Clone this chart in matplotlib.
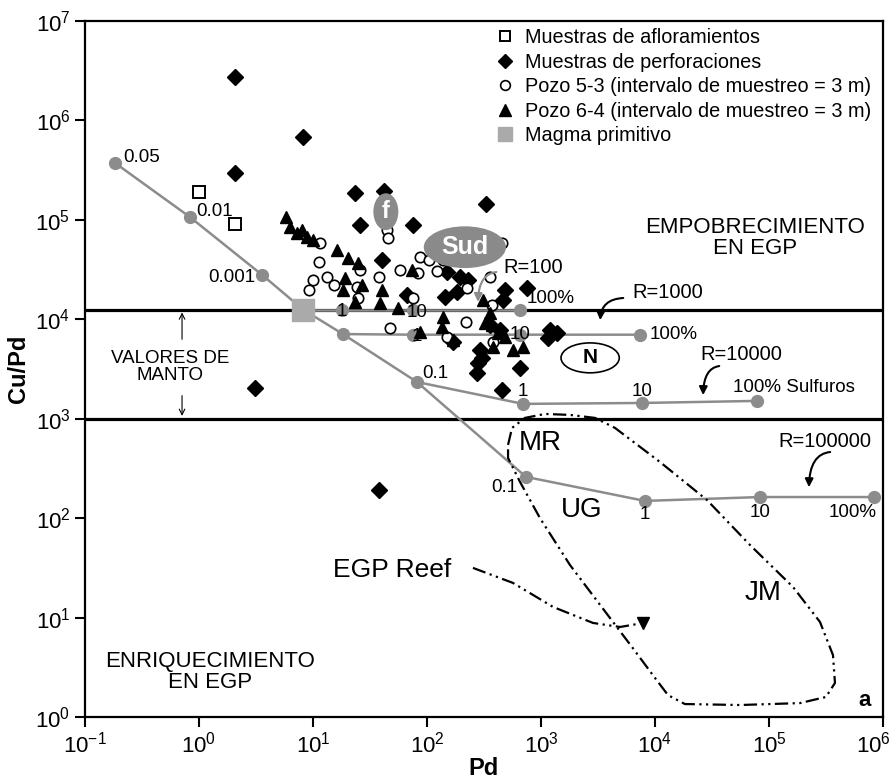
import matplotlib
matplotlib.use("Agg")
import matplotlib.pyplot as plt
from matplotlib.patches import Ellipse
from matplotlib.lines import Line2D
from matplotlib.transforms import ScaledTranslation

plt.rcParams['font.family'] = ['Liberation Sans', 'DejaVu Sans']
plt.rcParams['mathtext.fontset'] = 'custom'
plt.rcParams['mathtext.rm'] = 'Liberation Sans'
plt.rcParams['mathtext.it'] = 'Liberation Sans:italic'
plt.rcParams['mathtext.bf'] = 'Liberation Sans:bold'

# --- datos (Pd, Cu/Pd) ---
aflor_pd = [1.0, 2.07]
aflor_cupd = [1.91e5, 9.1e4]

perf_pd = [2.07, 8.2, 2.07, 23.4, 42, 25.8, 75, 330, 40, 67, 150, 144, 183, 195, 229, 483,
           464, 753, 1200, 1380, 1150, 292, 280, 275, 304, 654, 455, 169, 3.1, 357, 437, 38]
perf_cupd = [2.75e6, 6.8e5, 2.97e5, 1.87e5, 1.96e5, 8.9e4, 8.9e4, 1.45e5, 3.96e4, 1.76e4,
             3.0e4, 1.68e4, 1.89e4, 2.67e4, 2.49e4, 1.98e4, 1.57e4, 2.07e4, 7.8e3, 7.3e3,
             6.5e3, 4.9e3, 3.64e3, 2.89e3, 4.1e3, 3.25e3, 1.95e3, 5.9e3, 2.04e3, 8.8e3, 7.8e3, 192]

p53_pd = [11.5, 11.3, 10, 9.2, 13.3, 15.3, 25.8, 24.8, 38, 44.6, 45.5, 58, 83, 87, 104, 135,
          138, 122, 455, 280, 357, 224, 75, 47, 220, 150, 372, 379, 24.3]
p53_cupd = [5.9e4, 3.78e4, 2.49e4, 1.98e4, 2.67e4, 2.22e4, 3.14e4, 1.64e4, 2.67e4, 7.9e4,
            6.6e4, 3.14e4, 2.93e4, 4.25e4, 3.96e4, 5.0e4, 3.96e4, 3.07e4, 5.9e4, 5.0e4,
            2.67e4, 2.07e4, 1.64e4, 8.2e3, 9.4e3, 6.65e3, 1.4e4, 5.9e3, 2.12e4]

p64_pd = [5.8, 6.3, 7.2, 8.0, 8.9, 10, 16.2, 20.3, 24.8, 19.1, 18.3, 26.9, 23.4, 40, 38.7,
          55.7, 74, 310, 357, 138, 135, 87, 169, 323, 372, 420, 483, 568, 695, 379, 304]
p64_cupd = [1.07e5, 8.5e4, 7.4e4, 7.9e4, 6.7e4, 6.3e4, 5.0e4, 4.15e4, 3.69e4, 2.61e4,
            1.98e4, 2.22e4, 1.5e4, 1.98e4, 1.46e4, 1.3e4, 3.14e4, 1.57e4, 1.16e4, 1.06e4,
            8.4e3, 7.5e3, 6.2e3, 9.2e3, 8.8e3, 7.3e3, 6.65e3, 4.9e3, 5.3e3, 5.3e3, 4.7e3]

magma_pd, magma_cupd = 8.2, 1.25e4
manto = [1.0e3, 1.25e4]

# curva principal (fraccion de sulfuros) y ramas de factor R
diag_pd = [0.183, 0.83, 3.57, 8.2, 18.3, 81.7, 738]
diag_cupd = [3.74e5, 1.07e5, 2.8e4, 1.25e4, 7.1e3, 2.34e3, 260]
diag_lbl = ['0.05', '0.01', '0.001']

r100_pd = [8.2, 17.9, 75.3, 654]
r100_cupd = [1.25e4, 1.25e4, 1.25e4, 1.25e4]
r1000_pd = [18.3, 75.3, 654, 7380]
r1000_cupd = [7.1e3, 7.0e3, 7.0e3, 7.0e3]
r1e4_pd = [81.7, 695, 7690, 78500]
r1e4_cupd = [2.34e3, 1.41e3, 1.44e3, 1.51e3]
r1e5_pd = [738, 8170, 83400, 8.3e5]
r1e5_cupd = [260, 149, 163, 163]

# campo MR-UG-JM y curva EGP Reef
field_pd = [514, 557, 724, 1084, 1795, 2976, 4457, 11060, 28580, 68100, 162500, 280000,
            364000, 379000, 316000, 187000, 55700, 18300, 13000, 10000, 6280, 3300, 1795,
            980, 655, 514, 514]
field_cupd = [545, 808, 1019, 1117, 1092, 1019, 808, 367, 152, 53.7, 20.3, 9.03, 4.2, 2.2,
              1.59, 1.38, 1.32, 1.35, 1.66, 2.47, 5.06, 13.4, 33.8, 100, 231, 403, 545]
reef_pd = [253, 568, 1274, 2858, 4932, 6950]
reef_cupd = [31.6, 22.3, 12.8, 8.83, 8.04, 8.6]

xticks = [1e-1, 1e0, 1e1, 1e2, 1e3, 1e4, 1e5, 1e6]
yticks = [1e0, 1e1, 1e2, 1e3, 1e4, 1e5, 1e6, 1e7]

gray = '#8c8c8c'

fig = plt.figure(figsize=(8.93, 7.8), dpi=100)
ax = fig.add_axes([85/893, 1-717/780, 798/893, 696/780])
ax.set_xscale('log')
ax.set_yscale('log')
ax.set_xticks(xticks)
ax.set_yticks(yticks)
ax.set_xlim(0.1, 1e6)
ax.set_ylim(1, 1e7)

for y in manto:
    ax.axhline(y, color='black', lw=2.3, zorder=2)

# curvas de mezcla
ax.plot(diag_pd, diag_cupd, color=gray, lw=1.8, zorder=3)
for px, py in [(r100_pd, r100_cupd), (r1000_pd, r1000_cupd), (r1e4_pd, r1e4_cupd), (r1e5_pd, r1e5_cupd)]:
    ax.plot(px, py, color=gray, lw=1.8, zorder=3)
    ax.plot(px[1:], py[1:], 'o', color=gray, ms=8.5, zorder=4)
ax.plot(diag_pd[:3] + diag_pd[4:], diag_cupd[:3] + diag_cupd[4:], 'o', color=gray, ms=8.5, zorder=4)

# campo y EGP Reef
ax.plot(field_pd, field_cupd, color='black', lw=1.6, ls=(0, (6, 2, 1, 2, 1, 2)), zorder=3)
ax.plot(reef_pd, reef_cupd, color='black', lw=1.6, ls=(0, (6, 2, 1, 2, 1, 2)), zorder=3)
ax.plot(reef_pd[-1] * 1.13, reef_cupd[-1] * 1.02, 'v', color='black', ms=9, zorder=3)

# muestras
ax.plot(aflor_pd, aflor_cupd, 's', mfc='white', mec='black', mew=1.4, ms=8, ls='none', zorder=5)
ax.plot(perf_pd, perf_cupd, 'D', color='black', ms=8, ls='none', zorder=5)
ax.plot(p53_pd, p53_cupd, 'o', mfc='white', mec='black', mew=1.2, ms=7.5, ls='none', zorder=5)
ax.plot(p64_pd, p64_cupd, '^', color='black', ms=9, ls='none', zorder=5)
ax.plot(magma_pd, magma_cupd, 's', color='#aaaaaa', ms=16, zorder=4)

# etiquetas de las curvas
lf = 13.5
for (x, y), t, off, ha in zip(zip(diag_pd[:3], diag_cupd[:3]), diag_lbl,
                              [(6, 4), (5, 4), (-5, -2)], ['left', 'left', 'right']):
    ax.annotate(t, (x, y), xytext=off, textcoords='offset points', ha=ha, va='center', fontsize=lf, zorder=6)

def lbl(t, x, y, off, ha='center'):
    ax.annotate(t, (x, y), xytext=off, textcoords='offset points', ha=ha, va='center', fontsize=lf, zorder=6)

lbl('1', r100_pd[1], r100_cupd[1], (0, -1))
lbl('10', r100_pd[2], r100_cupd[2], (3, -2))
lbl('100%', r100_pd[3], r100_cupd[3], (5, 8), 'left')
lbl('1', r1000_pd[1], r1000_cupd[1], (3, -1))
lbl('10', r1000_pd[2], r1000_cupd[2], (0, 0))
lbl('100%', r1000_pd[3], r1000_cupd[3], (7, 0), 'left')
lbl('0.1', r1e4_pd[0], r1e4_cupd[0], (4, 6), 'left')
lbl('1', r1e4_pd[1], r1e4_cupd[1], (0, 9))
lbl('10', r1e4_pd[2], r1e4_cupd[2], (0, 8))
lbl('100% Sulfuros', r1e4_pd[3], r1e4_cupd[3], (-17, 10), 'left')
lbl('0.1', r1e5_pd[0], r1e5_cupd[0], (-6, -8), 'right')
lbl('1', r1e5_pd[1], r1e5_cupd[1], (0, -10))
lbl('10', r1e5_pd[2], r1e5_cupd[2], (0, -11))
lbl('100%', r1e5_pd[3], r1e5_cupd[3], (2, -11), 'right')

# etiquetas R con flechas curvas
rl = [('R=100', (464, 3.29e4), (430, 3.0e4), (280, 1.40e4), gray),
      ('R=1000', (6280, 1.85e4), (5570, 1.64e4), (3300, 9.2e3), 'black'),
      ('R=10000', (24800, 4.38e3), (38700, 3.4e3), (26400, 1.62e3), 'black'),
      ('R=100000', (120000, 585), (364000, 464), (224000, 192), 'black')]
for t, tp, st, en, c in rl:
    ax.text(tp[0], tp[1], t, fontsize=14.5, ha='left', va='center', zorder=6)
    ax.annotate('', xy=en, xytext=st,
                arrowprops=dict(arrowstyle='-|>', color=c, lw=1.5, mutation_scale=12,
                                connectionstyle='angle3,angleA=0,angleB=90'), zorder=6)

# valores de manto
ax.annotate('', xy=(0.71, manto[1]), xytext=(0.71, 5.9e3),
            arrowprops=dict(arrowstyle='->', color='black', lw=0.8, mutation_scale=10))
ax.annotate('', xy=(0.71, manto[0]), xytext=(0.71, 1.82e3),
            arrowprops=dict(arrowstyle='->', color='black', lw=0.8, mutation_scale=10))
ax.text(0.107, 0.503, 'VALORES DE\nMANTO', transform=ax.transAxes, ha='center', va='center',
        fontsize=13.5, linespacing=1.0)

ax.text(0.840, 0.688, 'EMPOBRECIMIENTO\nEN EGP', transform=ax.transAxes, ha='center', va='center',
        fontsize=16, linespacing=1.0)
ax.text(0.157, 0.065, 'ENRIQUECIMIENTO\nEN EGP', transform=ax.transAxes, ha='center', va='center',
        fontsize=16, linespacing=1.0)

ax.text(0.570, 0.394, 'MR', transform=ax.transAxes, ha='center', va='center', fontsize=20)
ax.text(0.623, 0.297, 'UG', transform=ax.transAxes, ha='center', va='center', fontsize=20)
ax.text(0.850, 0.178, 'JM', transform=ax.transAxes, ha='center', va='center', fontsize=20)
ax.text(0.385, 0.211, 'EGP Reef', transform=ax.transAxes, ha='center', va='center', fontsize=19)
ax.text(0.977, 0.024, 'a', transform=ax.transAxes, ha='center', va='center', fontsize=16, fontweight='bold')

# elipses f, Sud, N
ax.add_patch(Ellipse((0.377, 0.726), 0.0313, 0.053, transform=ax.transAxes, fc='#8a8a8a', ec='none', zorder=7))
ax.text(0.377, 0.726, 'f', transform=ax.transAxes, ha='center', va='center', color='white',
        fontsize=17, fontweight='bold', zorder=8)
ax.add_patch(Ellipse((0.476, 0.675), 0.103, 0.060, transform=ax.transAxes, fc='#8a8a8a', ec='none', zorder=7))
ax.text(0.476, 0.675, 'Sud', transform=ax.transAxes, ha='center', va='center', color='white',
        fontsize=18, fontweight='bold', zorder=8)
ax.add_patch(Ellipse((0.633, 0.516), 0.073, 0.043, transform=ax.transAxes, fc='white', ec='black', lw=1.2, zorder=7))
ax.text(0.633, 0.516, 'N', transform=ax.transAxes, ha='center', va='center', color='black',
        fontsize=15, fontweight='bold', zorder=8)

# leyenda
handles = [Line2D([], [], marker='s', ls='none', mfc='white', mec='black', mew=1.4, ms=7),
           Line2D([], [], marker='D', ls='none', color='black', ms=7),
           Line2D([], [], marker='o', ls='none', mfc='white', mec='black', mew=1.2, ms=7),
           Line2D([], [], marker='^', ls='none', color='black', ms=8),
           Line2D([], [], marker='s', ls='none', color='#aaaaaa', ms=10)]
labels = ['Muestras de afloramientos', 'Muestras de perforaciones',
          'Pozo 5-3 (intervalo de muestreo = 3 m)', 'Pozo 6-4 (intervalo de muestreo = 3 m)',
          'Magma primitivo']
ax.legend(handles, labels, loc='upper left', bbox_to_anchor=(0.496, 1.01), frameon=False,
          fontsize=14.3, handlelength=1.0, handletextpad=0.55, labelspacing=0.28, borderpad=0.2)

ax.set_xlabel('Pd', fontsize=17, fontweight='bold', labelpad=0)
ax.set_ylabel('Cu/Pd', fontsize=17, fontweight='bold', labelpad=4)
ax.minorticks_off()
ax.tick_params(axis='both', which='major', direction='out', length=7, width=1.5, labelsize=16)
for s in ax.spines.values():
    s.set_linewidth(1.6)

fig.canvas.draw()
last = ax.get_xticklabels()[-1]
last.set_transform(last.get_transform() + ScaledTranslation(-7/72, 0, fig.dpi_scale_trans))

fig.savefig('out.png', dpi=100)
